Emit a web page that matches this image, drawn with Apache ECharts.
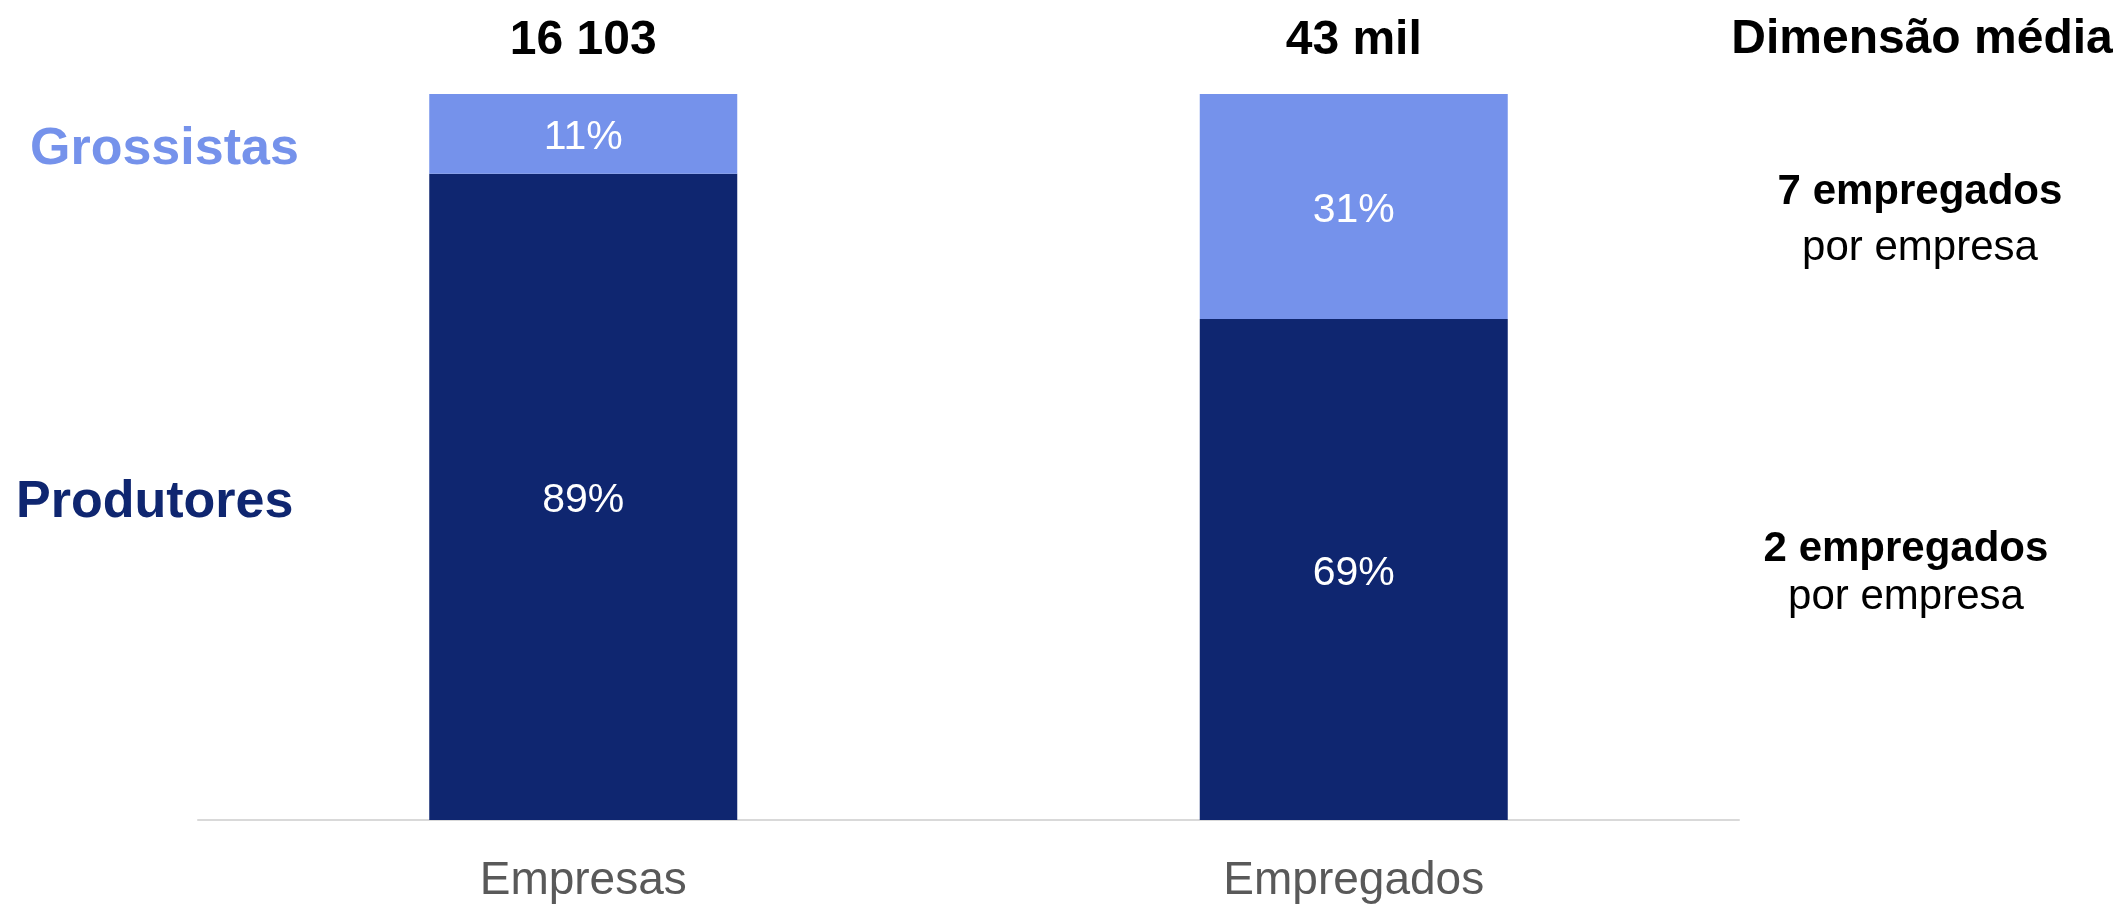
<!DOCTYPE html>
<html><head><meta charset="utf-8">
<script src="https://cdn.jsdelivr.net/npm/echarts@6/dist/echarts.min.js"></script>
<style>html,body{margin:0;padding:0;background:#fff}#c{width:2116px;height:904px}</style>
</head><body><div id="c"></div>
<script>
const categories = ['Empresas', 'Empregados'];
const produtores = [89, 69];
const grossistas = [11, 31];
const totals = ['16 103', '43 mil'];
const seriesNames = ['Produtores', 'Grossistas'];
const sideTitle = 'Dimensão média';
const avgGrossistas = ['7 empregados', 'por empresa'];
const avgProdutores = ['2 empregados', 'por empresa'];

const FONT = '"Liberation Sans", Arial, sans-serif';
const DARK = '#0F2670';
const LIGHT = '#7592EB';

const chart = echarts.init(document.getElementById('c'), null, {renderer: 'canvas'});
chart.setOption({
  animation: false,
  textStyle: {fontFamily: FONT},
  grid: {left: 198, right: 377, top: 94, bottom: 82, containLabel: false},
  xAxis: {
    type: 'category', data: categories,
    axisLine: {lineStyle: {color: '#D9D9D9', width: 2}},
    axisTick: {show: false},
    axisLabel: {color: '#595959', fontSize: 46, fontFamily: FONT, margin: 38}
  },
  yAxis: {type: 'value', min: 0, max: 100, show: false, splitLine: {show: false}},
  series: [
    {
      name: seriesNames[0], type: 'bar', stack: 's', barWidth: 308,
      data: produtores,
      itemStyle: {color: DARK},
      label: {show: true, position: 'inside', offset: [0, 4], color: '#fff', fontSize: 41, fontFamily: FONT, formatter: p => p.value + '%'}
    },
    {
      name: seriesNames[1], type: 'bar', stack: 's', barWidth: 308,
      data: grossistas,
      itemStyle: {color: LIGHT},
      label: {show: true, position: 'inside', offset: [0, 4], color: '#fff', fontSize: 41, fontFamily: FONT, formatter: p => p.value + '%'}
    },
    {
      name: 'total', type: 'bar', stack: 's', barWidth: 308,
      data: [0, 0],
      itemStyle: {color: 'transparent'},
      label: {show: true, position: 'top', distance: 29, color: '#000', fontSize: 48, fontWeight: 'bold', fontFamily: FONT,
        formatter: p => totals[p.dataIndex]}
    }
  ],
  graphic: [
    {type: 'text', left: 30, top: 124, style: {text: seriesNames[1], fill: LIGHT, font: 'bold 52px ' + FONT}},
    {type: 'text', left: 16, top: 477, style: {text: seriesNames[0], fill: DARK, font: 'bold 52px ' + FONT}},
    {type: 'text', x: 1922, y: 40, style: {text: sideTitle, fill: '#000', font: 'bold 48px ' + FONT, align: 'center', verticalAlign: 'middle'}},
    {type: 'text', x: 1920, y: 192, style: {text: avgGrossistas[0], fill: '#000', font: 'bold 42px ' + FONT, align: 'center', verticalAlign: 'middle'}},
    {type: 'text', x: 1920, y: 248, style: {text: avgGrossistas[1], fill: '#000', font: '42px ' + FONT, align: 'center', verticalAlign: 'middle'}},
    {type: 'text', x: 1906, y: 549, style: {text: avgProdutores[0], fill: '#000', font: 'bold 42px ' + FONT, align: 'center', verticalAlign: 'middle'}},
    {type: 'text', x: 1906, y: 597, style: {text: avgProdutores[1], fill: '#000', font: '42px ' + FONT, align: 'center', verticalAlign: 'middle'}}
  ]
});
</script></body></html>
